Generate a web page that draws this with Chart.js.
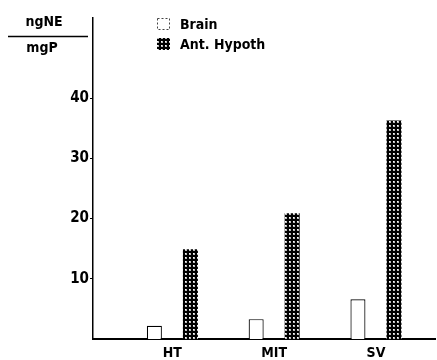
<!DOCTYPE html>
<html>
<head>
<meta charset="utf-8">
<script src="https://cdn.jsdelivr.net/npm/chart.js@4"></script>
<style>
    body { margin: 0; background: #fff; }
    #wrap { width: 437px; height: 360px; }
</style>
</head>
<body>
<div id="wrap"><canvas id="neChart" width="437" height="360"></canvas></div>
<script>
    'use strict';

    // values (ng NE / mg protein)
    var categories = ['HT', 'MIT', 'SV'];
    var brainValues = [2.2, 3.3, 6.6];
    var antHypothValues = [14.9, 20.9, 36.3];
    var yTicks = [10, 20, 30, 40];
    var seriesLabels = ['Brain', 'Ant. Hypoth'];

    var FONT = '"DejaVu Sans Condensed", "DejaVu Sans", sans-serif';

    /**
     * Dotted black fill used for the Ant. Hypoth bars
     */
    function makeDotPattern() {
        var tile = document.createElement('canvas');
        tile.width = 4;
        tile.height = 4;
        var c = tile.getContext('2d');
        c.fillStyle = '#000';
        c.fillRect(0, 0, 4, 4);
        c.fillStyle = '#bdbdbd';
        c.fillRect(1, 1, 2, 2);
        c.fillStyle = '#fff';
        c.fillRect(1, 1, 1, 1);
        return c.createPattern(tile, 'repeat');
    }

    var dotPattern = makeDotPattern();

    function toPoints(values) {
        return values.map(function (v, i) {
            return { x: i + 1, y: v };
        });
    }

    // "ngNE / mgP" unit label plus the legend, drawn over the chart
    var decorPlugin = {
        id: 'decor',
        afterDraw: function (chart) {
            var ctx = chart.ctx;
            ctx.save();
            ctx.fillStyle = '#000';
            ctx.strokeStyle = '#000';
            ctx.font = 'bold 14px ' + FONT;
            ctx.textBaseline = 'middle';
            ctx.textAlign = 'center';
            ctx.fillText('ngNE', 44, 22);
            ctx.fillText('mgP', 42, 48);
            ctx.lineWidth = 1.5;
            ctx.beginPath();
            ctx.moveTo(8, 36.5);
            ctx.lineTo(88, 36.5);
            ctx.stroke();

            // legend
            ctx.textAlign = 'left';
            ctx.lineWidth = 1;
            ctx.setLineDash([2, 2]);
            ctx.strokeStyle = '#444';
            ctx.strokeRect(157.5, 18.5, 12, 11);
            ctx.setLineDash([]);
            ctx.fillStyle = dotPattern;
            ctx.fillRect(157, 38, 13, 12);
            ctx.fillStyle = '#000';
            ctx.fillText(seriesLabels[0], 180, 25);
            ctx.fillText(seriesLabels[1], 180, 45);
            ctx.restore();
        }
    };

    var chart = new Chart(document.getElementById('neChart'), {
        type: 'bar',
        data: {
            datasets: [{
                label: seriesLabels[0],
                data: toPoints(brainValues),
                backgroundColor: '#fff',
                borderColor: '#000',
                borderWidth: 1.2
            }, {
                label: seriesLabels[1],
                data: toPoints(antHypothValues),
                backgroundColor: dotPattern,
                borderColor: '#000',
                borderWidth: 0
            }]
        },
        options: {
            responsive: false,
            animation: false,
            layout: { padding: { top: 18, right: 2, left: 0, bottom: 0 } },
            datasets: {
                bar: { categoryPercentage: 0.708, barPercentage: 0.417 }
            },
            plugins: {
                legend: { display: false },
                tooltip: { enabled: false }
            },
            scales: {
                x: {
                    type: 'linear',
                    offset: false,
                    min: 0.22,
                    max: 3.58,
                    afterBuildTicks: function (scale) {
                        scale.ticks = categories.map(function (c, i) {
                            return { value: i + 1 };
                        });
                    },
                    afterFit: function (scale) {
                        scale.height = 21;
                    },
                    grid: { display: false, drawTicks: false },
                    border: { display: true, color: '#000', width: 2 },
                    ticks: {
                        padding: 6,
                        color: '#000',
                        font: { family: FONT, size: 14, weight: 'bold' },
                        callback: function (value) {
                            return categories[value - 1];
                        }
                    }
                },
                y: {
                    min: 0,
                    max: 53.3,
                    afterBuildTicks: function (scale) {
                        scale.ticks = yTicks.map(function (v) {
                            return { value: v };
                        });
                    },
                    afterFit: function (scale) {
                        scale.width = 93;
                    },
                    grid: {
                        drawOnChartArea: false,
                        drawTicks: true,
                        tickLength: 3,
                        color: '#000'
                    },
                    border: { display: true, color: '#000', width: 1.5 },
                    ticks: {
                        padding: 1,
                        color: '#000',
                        font: { family: FONT, size: 15, weight: 'bold' }
                    }
                }
            }
        },
        plugins: [decorPlugin]
    });
</script>
</body>
</html>
